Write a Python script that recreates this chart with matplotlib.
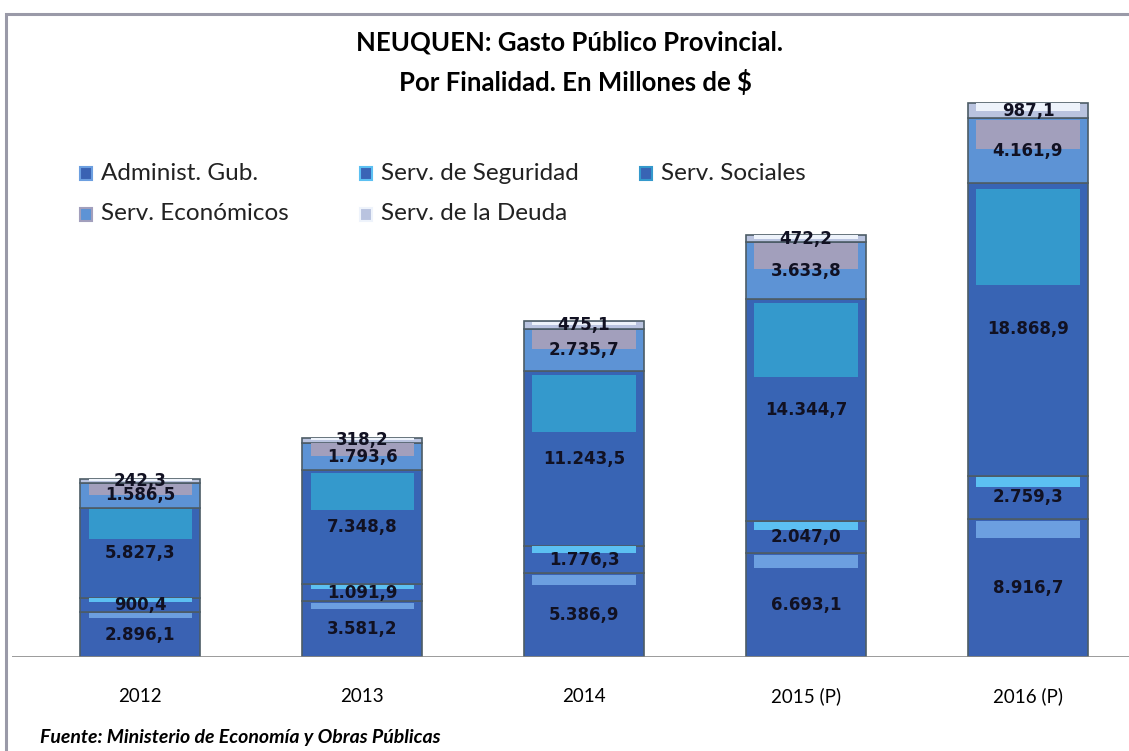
import numpy as np
import matplotlib.pyplot as plt
from matplotlib.patches import Rectangle

# data
years = ["2012", "2013", "2014", "2015 (P)", "2016 (P)"]
series = ["Administ. Gub.", "Serv. de Seguridad", "Serv. Sociales",
          "Serv. Económicos", "Serv. de la Deuda"]
admin = [2896.1, 3581.2, 5386.9, 6693.1, 8916.7]
seguridad = [900.4, 1091.9, 1776.3, 2047.0, 2759.3]
sociales = [5827.3, 7348.8, 11243.5, 14344.7, 18868.9]
economicos = [1586.5, 1793.6, 2735.7, 3633.8, 4161.9]
deuda = [242.3, 318.2, 475.1, 472.2, 987.1]

values = [admin, seguridad, sociales, economicos, deuda]
body = ["#3a62b3", "#3a64b6", "#3864b4", "#5d93d5", "#b9c3df"]
gloss = ["#6c9fe0", "#5cc0f2", "#3499cc", "#a29fbc", "#eef3fb"]
gloss_frac = [0.12, 0.25, 0.33, 0.45, 0.5]


def fmt(v):
    s = f"{v:,.1f}"
    return s.replace(",", "X").replace(".", ",").replace("X", ".")


fig = plt.figure(figsize=(11.29, 7.51), dpi=100)
ax = fig.add_axes([12 / 1129, 1 - 657 / 751, 1 - 12 / 1129, (657 - 60) / 751])

x = np.arange(len(years))
w = 0.54
bottom = np.zeros(len(years))
for vals, c, g, f in zip(values, body, gloss, gloss_frac):
    vals = np.array(vals)
    ax.bar(x, vals, w, bottom=bottom, color=c, edgecolor="#4d5c66",
           linewidth=1.2, zorder=2)
    # lighter band on top of each segment (3d look)
    ax.bar(x, vals * f, w * 0.86, bottom=bottom + vals * (1 - f) - vals * 0.02,
           color=g, linewidth=0, zorder=3)
    for xi, b, v in zip(x, bottom, vals):
        ax.text(xi, b + v / 2, fmt(v), ha="center", va="center",
                fontsize=12, fontweight="bold", color="#111122",
                family="DejaVu Sans", zorder=5)
    bottom += vals

ax.set_xlim(-0.577, 4.455)
ax.set_ylim(0, 597 / 0.01552)
ax.axhline(0, color="#8a8a8a", linewidth=1.2, zorder=4)
for s in ax.spines.values():
    s.set_visible(False)
ax.set_yticks([])
ax.set_xticks(x)
ax.set_xticklabels(years, fontsize=13.5, family="Lato")
ax.tick_params(axis="x", length=0, pad=22)
ax.patch.set_alpha(0)

# frame
fig.patches.append(Rectangle((6 / 1129, -0.05), 1.1, 1 - 14 / 751 + 0.05,
                             transform=fig.transFigure, fill=False,
                             edgecolor="#9a9aa8", linewidth=2.2))

fig.text(569 / 1129, 1 - 42 / 751, "NEUQUEN: Gasto Público Provincial.",
         ha="center", va="center", fontsize=18.5, fontweight="bold", family="Lato")
fig.text(575 / 1129, 1 - 82 / 751, "Por Finalidad. En Millones de $",
         ha="center", va="center", fontsize=18.5, fontweight="bold", family="Lato")

# legend
leg_pos = [(80, 173), (360, 173), (640, 173), (80, 214), (360, 214)]
for name, c, g, (px, py) in zip(series, body, gloss, leg_pos):
    fig.patches.append(Rectangle((px / 1129, 1 - (py + 7) / 751), 12 / 1129, 13 / 751,
                                 transform=fig.transFigure, facecolor=c,
                                 edgecolor=g, linewidth=1.5))
    fig.text((px + 21) / 1129, 1 - py / 751, name, ha="left", va="center",
             fontsize=17.5, family="Lato", color="#222222")

fig.text(40 / 1129, 14 / 751, "Fuente: Ministerio de Economía y Obras Públicas",
         ha="left", va="center", fontsize=14, fontweight="bold",
         fontstyle="italic", family="Lato")

fig.savefig("out.png", dpi=100)
